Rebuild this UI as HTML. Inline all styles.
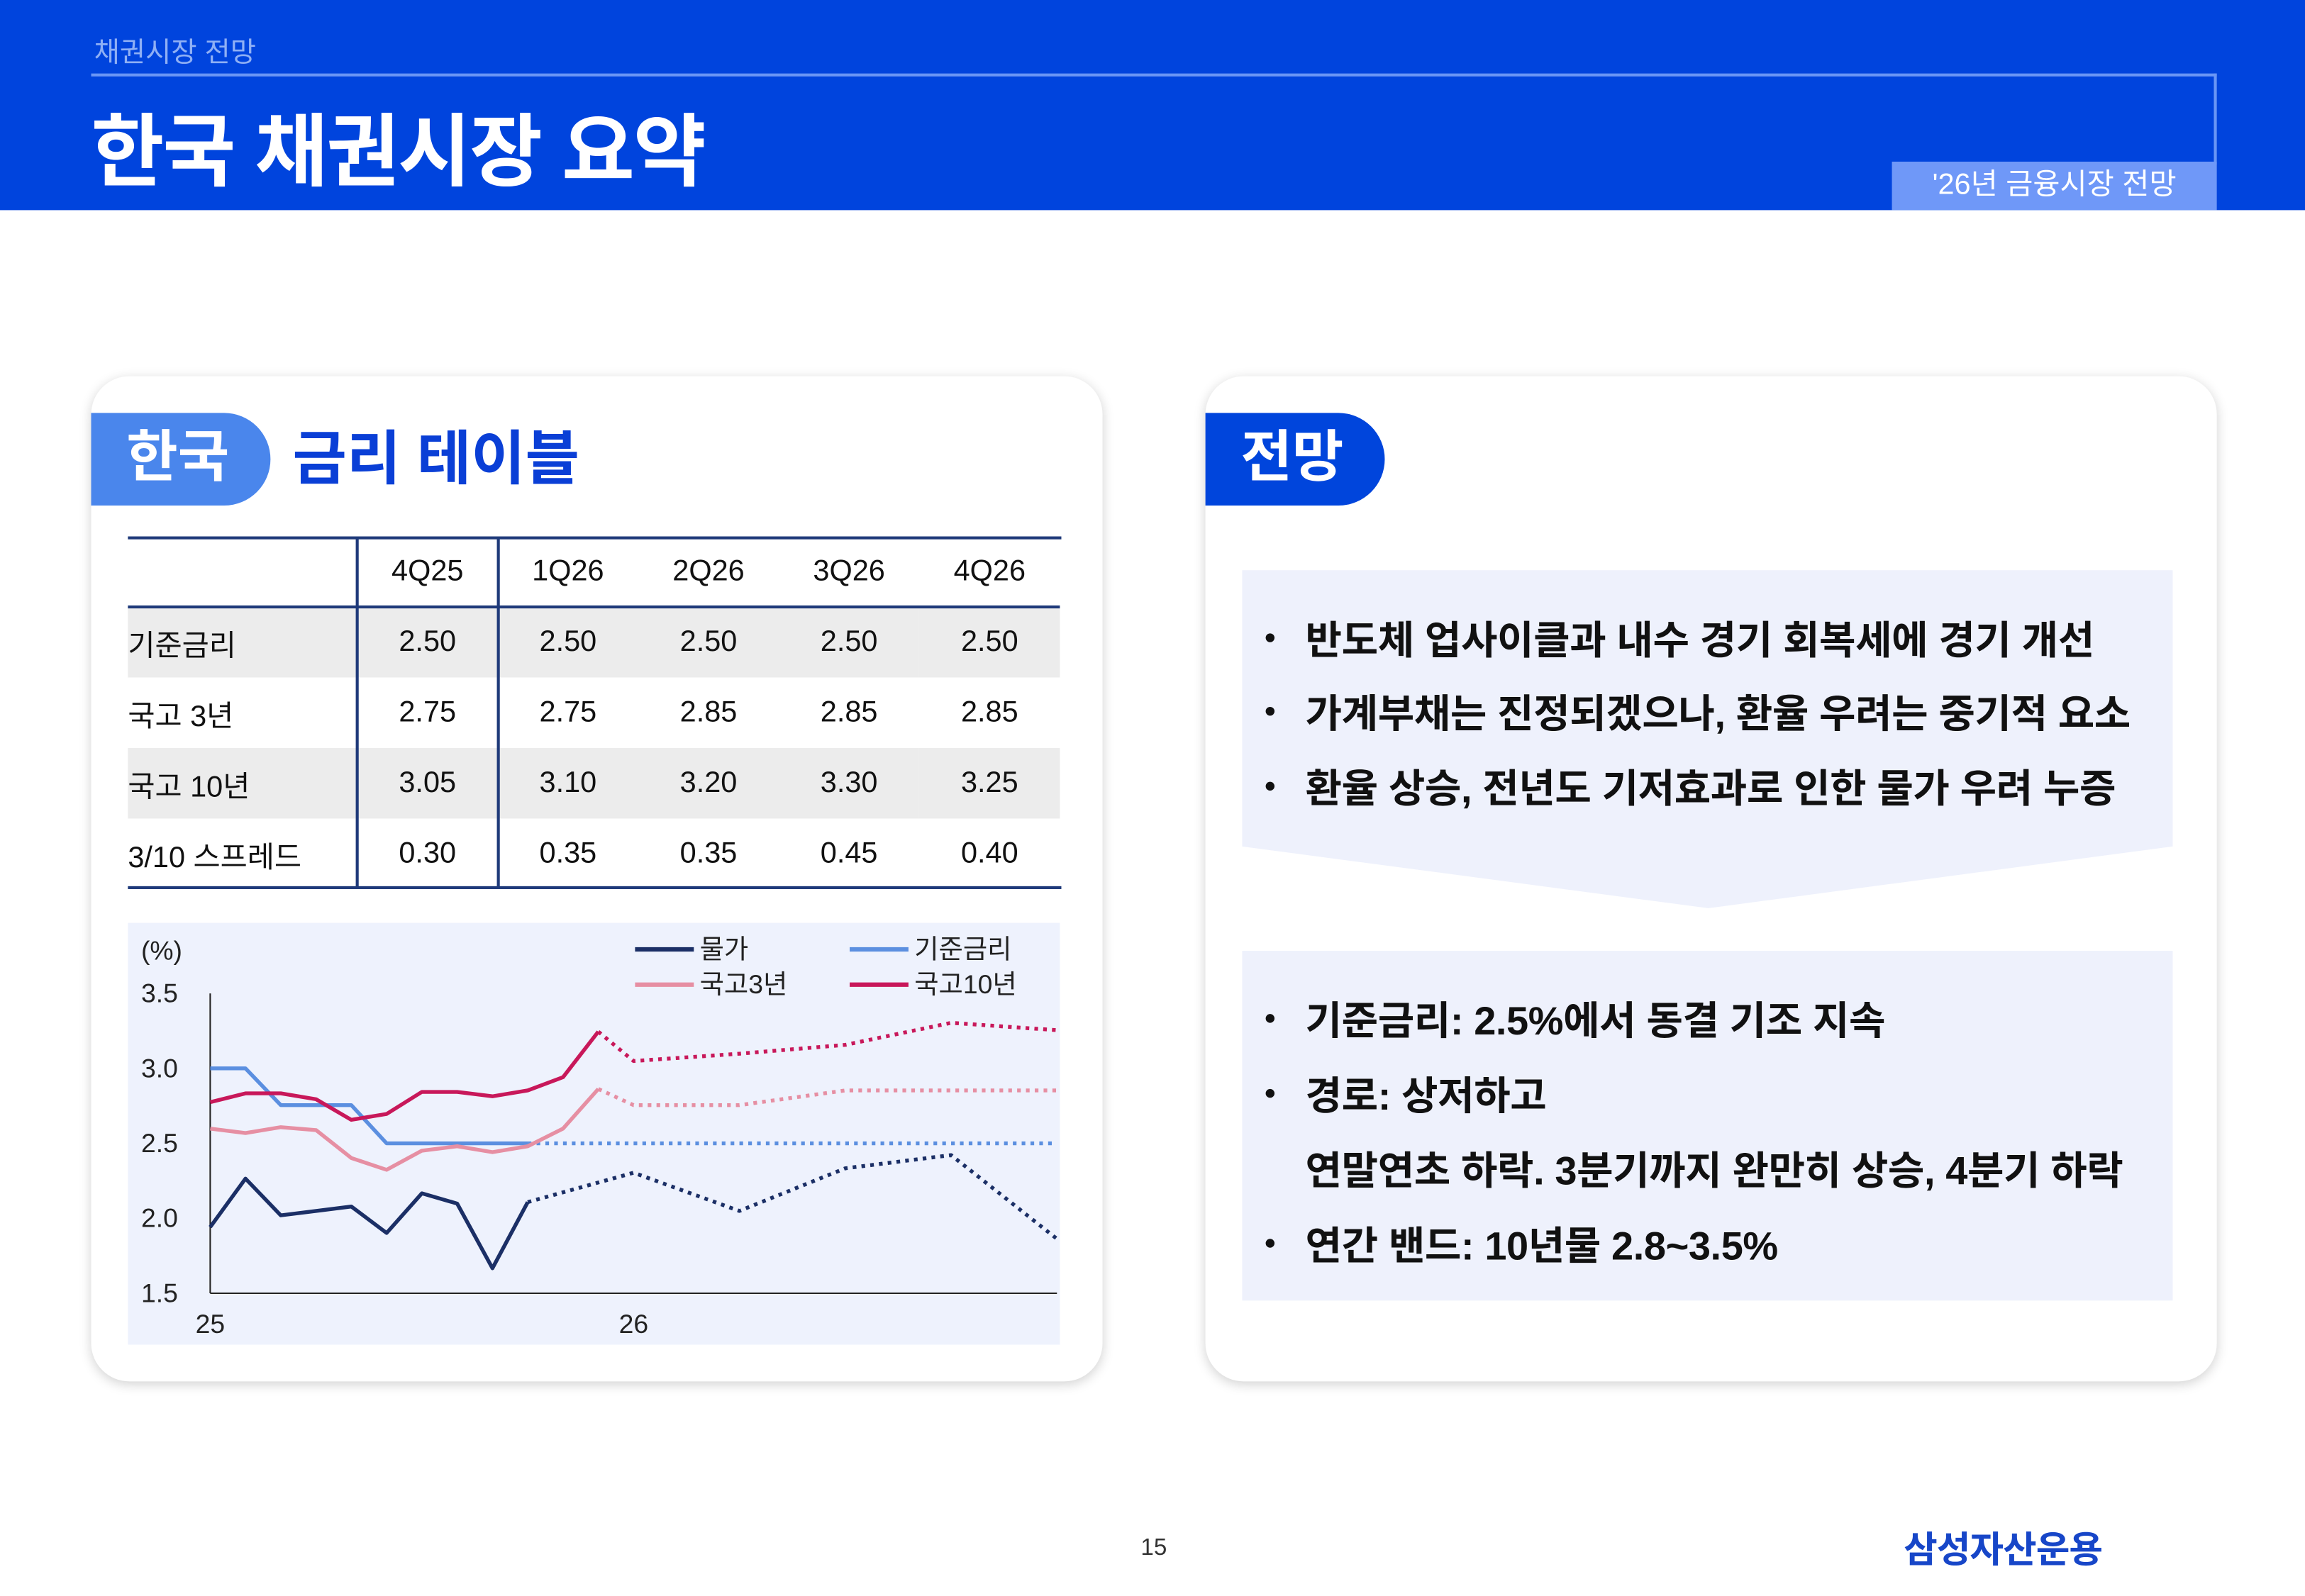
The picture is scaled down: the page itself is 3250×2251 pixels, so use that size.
<!DOCTYPE html>
<html><head><meta charset="utf-8"><style>
*{margin:0;padding:0;box-sizing:border-box}
html,body{width:3250px;height:2250px;overflow:hidden;background:#fff}
#s{position:absolute;left:0;top:0;width:1568px;height:1086px;transform:scale(2.0727);transform-origin:0 0;font-family:"Liberation Sans","Noto Sans CJK KR",sans-serif;color:#111}
.a{position:absolute}
.card{position:absolute;background:#fff;border-radius:26px;box-shadow:0 2px 8px rgba(0,0,0,0.18)}
table{border-collapse:collapse;position:absolute;left:87px;top:366px;width:634px;font-size:20px}
td{height:48px;text-align:center;padding:0}
td:first-child{text-align:left;width:156px}
tr.h td{height:47px}
.g td{background:#ececec}
.li{font-size:27px;font-weight:bold;position:absolute;left:888px;white-space:nowrap;letter-spacing:-0.2px}
.li:before{content:"";position:absolute;left:-27px;top:17px;width:6px;height:6px;border-radius:3px;background:#111}
.li.nb:before{display:none}
</style></head><body><div id="s">
<div class="a" style="left:0;top:0;width:1568px;height:143px;background:#0044dd"></div>
<div class="a" style="left:64px;top:21px;font-size:19px;color:#8fb0f5">채권시장 전망</div>
<div class="a" style="left:62px;top:50px;width:1446px;height:2px;background:#6a96f5"></div>
<div class="a" style="left:1506px;top:50px;width:2px;height:62px;background:#6a96f5"></div>
<div class="a" style="left:62px;top:59px;font-size:54px;font-weight:bold;color:#fff;letter-spacing:-1px">한국 채권시장 요약</div>
<div class="a" style="left:1287px;top:110px;width:221px;height:33px;background:#6f98f8;color:#fff;font-size:20px;text-align:center;line-height:32px">'26년 금융시장 전망</div>

<div class="card" style="left:62px;top:256px;width:688px;height:684px"></div>
<div class="card" style="left:820px;top:256px;width:688px;height:684px"></div>

<div class="a" style="left:62px;top:281px;width:122px;height:63px;background:#4a86ec;border-radius:0 32px 32px 0;color:#fff;font-size:38px;font-weight:bold;line-height:62px;padding-left:24px">한국</div>
<div class="a" style="left:199px;top:283px;font-size:40px;font-weight:bold;color:#0a3fd6;line-height:60px">금리 테이블</div>
<div class="a" style="left:820px;top:281px;width:122px;height:63px;background:#0045dc;border-radius:0 32px 32px 0;color:#fff;font-size:38px;font-weight:bold;line-height:62px;padding-left:24px">전망</div>

<table>
<tr class="h"><td></td><td>4Q25</td><td>1Q26</td><td>2Q26</td><td>3Q26</td><td>4Q26</td></tr>
<tr class="g"><td>기준금리</td><td>2.50</td><td>2.50</td><td>2.50</td><td>2.50</td><td>2.50</td></tr>
<tr><td>국고 3년</td><td>2.75</td><td>2.75</td><td>2.85</td><td>2.85</td><td>2.85</td></tr>
<tr class="g"><td>국고 10년</td><td>3.05</td><td>3.10</td><td>3.20</td><td>3.30</td><td>3.25</td></tr>
<tr><td>3/10 스프레드</td><td>0.30</td><td>0.35</td><td>0.35</td><td>0.45</td><td>0.40</td></tr>
</table>
<div class="a" style="left:87px;top:365px;width:635px;height:2px;background:#1f3a7a"></div>
<div class="a" style="left:87px;top:412px;width:634px;height:2px;background:#1f3a7a"></div>
<div class="a" style="left:87px;top:603px;width:635px;height:2px;background:#1f3a7a"></div>
<div class="a" style="left:242px;top:366px;width:2px;height:238px;background:#1f3a7a"></div>
<div class="a" style="left:338px;top:366px;width:2px;height:238px;background:#1f3a7a"></div>

<svg class="a" style="left:0;top:0" width="1568" height="1086" font-family="Liberation Sans, Noto Sans CJK KR, sans-serif">
<rect x="87" y="628" width="634" height="287" fill="#eef2fd"/>
<g font-size="18" fill="#222">
<text x="96" y="653">(%)</text>
<text x="96" y="682">3.5</text><text x="96" y="733">3.0</text><text x="96" y="784">2.5</text><text x="96" y="835">2.0</text><text x="96" y="886">1.5</text>
<text x="143" y="907" text-anchor="middle">25</text><text x="431" y="907" text-anchor="middle">26</text>
<text x="476" y="652">물가</text><text x="622" y="652">기준금리</text>
<text x="476" y="676">국고3년</text><text x="622" y="676">국고10년</text>
</g>
<g stroke-width="3" fill="none">
<line x1="432" y1="646" x2="472" y2="646" stroke="#1b2f66"/>
<line x1="578" y1="646" x2="618" y2="646" stroke="#5b8fe0"/>
<line x1="432" y1="670" x2="472" y2="670" stroke="#e68fa3"/>
<line x1="578" y1="670" x2="618" y2="670" stroke="#c8185a"/>
</g>
<line x1="143" y1="676" x2="143" y2="880" stroke="#222" stroke-width="1"/>
<line x1="143" y1="880" x2="719" y2="880" stroke="#222" stroke-width="1"/>
<g fill="none" stroke-width="2.6" stroke-linejoin="round">
<polyline stroke="#1b2f66" points="143,835 167,802 191,827 215,824 239,821 263,839 287,812 311,819 335,863 359,818"/>
<polyline stroke="#1b2f66" stroke-dasharray="2.5 3.5" points="359,818 431,798 503,824 575,795 647,786 719,843"/>
<polyline stroke="#5b8fe0" points="143,727 167,727 191,752 215,752 239,752 263,778 287,778 311,778 335,778 359,778"/>
<polyline stroke="#5b8fe0" stroke-dasharray="2.5 3.5" points="359,778 719,778"/>
<polyline stroke="#e68fa3" points="143,768 167,771 191,767 215,769 239,788 263,796 287,783 311,780 335,784 359,780 383,768 407,741"/>
<polyline stroke="#e68fa3" stroke-dasharray="2.5 3.5" points="407,741 431,752 503,752 575,742 719,742"/>
<polyline stroke="#c8185a" points="143,750 167,744 191,744 215,748 239,762 263,758 287,743 311,743 335,746 359,742 383,733 407,702"/>
<polyline stroke="#c8185a" stroke-dasharray="2.5 3.5" points="407,702 431,722 503,717 575,711 647,696 719,701"/>
</g>
<polygon points="845,388 1478,388 1478,576 1162,618 845,576" fill="#eef1fc"/>
<rect x="845" y="647" width="633" height="238" fill="#eef1fc"/>
</svg>

<div class="li" style="top:414px">반도체 업사이클과 내수 경기 회복세에 경기 개선</div>
<div class="li" style="top:464px">가계부채는 진정되겠으나, 환율 우려는 중기적 요소</div>
<div class="li" style="top:515px">환율 상승, 전년도 기저효과로 인한 물가 우려 누증</div>
<div class="li" style="top:673px">기준금리: 2.5%에서 동결 기조 지속</div>
<div class="li" style="top:724px">경로: 상저하고</div>
<div class="li nb" style="top:775px">연말연초 하락. 3분기까지 완만히 상승, 4분기 하락</div>
<div class="li" style="top:826px">연간 밴드: 10년물 2.8~3.5%</div>

<div class="a" style="left:776px;top:1045px;font-size:16px;color:#333">15</div>
<div class="a" style="left:1295px;top:1035px;font-size:25px;font-weight:bold;color:#1746c8;letter-spacing:-0.5px">삼성자산운용</div>
</div></body></html>
